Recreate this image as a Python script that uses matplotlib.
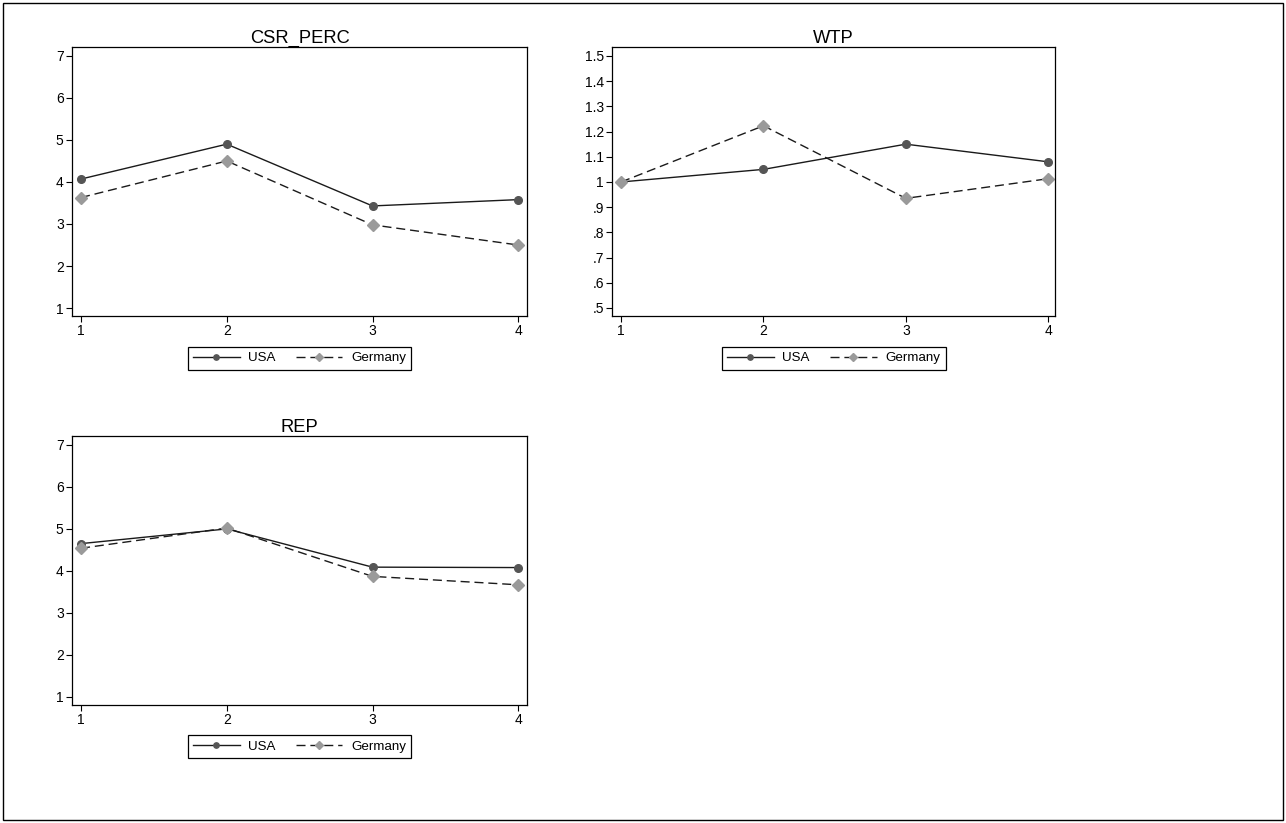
import matplotlib.pyplot as plt
from matplotlib.patches import Rectangle

plt.rcParams['font.family'] = ['Liberation Sans', 'DejaVu Sans']

waves = [1, 2, 3, 4]

csr_usa = [4.07, 4.90, 3.43, 3.58]
csr_ger = [3.63, 4.50, 2.98, 2.50]

wtp_usa = [1.00, 1.05, 1.15, 1.08]
wtp_ger = [1.00, 1.223, 0.935, 1.013]

rep_usa = [4.65, 5.00, 4.09, 4.08]
rep_ger = [4.54, 5.02, 3.87, 3.67]

csr_ticks = [1, 2, 3, 4, 5, 6, 7]
wtp_ticks = [0.5, 0.6, 0.7, 0.8, 0.9, 1.0, 1.1, 1.2, 1.3, 1.4, 1.5]
wtp_labels = ['.5', '.6', '.7', '.8', '.9', '1', '1.1', '1.2', '1.3', '1.4', '1.5']


def panel(ax, title, usa, ger, yticks, ylabels, ylim, xlim):
    ax.plot(waves, usa, '-', color='#1a1a1a', lw=1.0, marker='o', ms=5.5,
            mfc='#555555', mec='#555555', label='USA')
    ax.plot(waves, ger, '--', color='#1a1a1a', lw=1.0, dashes=(6.5, 3.5), marker='D',
            ms=6.5, mfc='#9a9a9a', mec='#9a9a9a', label='Germany')
    ax.set_title(title, fontsize=13.2, pad=3)
    ax.set_xticks(waves)
    ax.set_yticks(yticks)
    ax.set_yticklabels(ylabels)
    ax.set_xlim(*xlim)
    ax.set_ylim(*ylim)
    ax.tick_params(labelsize=10, length=4, width=0.8, pad=2)
    for s in ax.spines.values():
        s.set_linewidth(0.9)
    leg = ax.legend(loc='center', bbox_to_anchor=(0.5, -0.156), ncol=2,
                    fancybox=False, edgecolor='black', framealpha=1,
                    fontsize=9.6, handlelength=3.5, columnspacing=1.5,
                    borderpad=0.4, handletextpad=0.65, markerscale=0.7)
    leg.get_frame().set_linewidth(0.9)


fig = plt.figure(figsize=(12.86, 8.23), dpi=100)

ax1 = fig.add_axes([0.056, 0.616, 0.354, 0.327])
panel(ax1, 'CSR_PERC', csr_usa, csr_ger, csr_ticks, [str(t) for t in csr_ticks],
      (0.81, 7.214), (0.938, 4.062))

ax2 = fig.add_axes([0.476, 0.616, 0.3445, 0.327])
panel(ax2, 'WTP', wtp_usa, wtp_ger, wtp_ticks, wtp_labels,
      (0.468, 1.536), (0.937, 4.049))

ax3 = fig.add_axes([0.056, 0.1434, 0.354, 0.327])
panel(ax3, 'REP', rep_usa, rep_ger, csr_ticks, [str(t) for t in csr_ticks],
      (0.81, 7.214), (0.938, 4.062))

# outer frame around the whole graph
fig.patches.append(Rectangle((3 / 1286, 3 / 823), 1280 / 1286, 817 / 823,
                             transform=fig.transFigure, fill=False,
                             edgecolor='black', lw=1.0))

plt.savefig('out.png', dpi=100)
